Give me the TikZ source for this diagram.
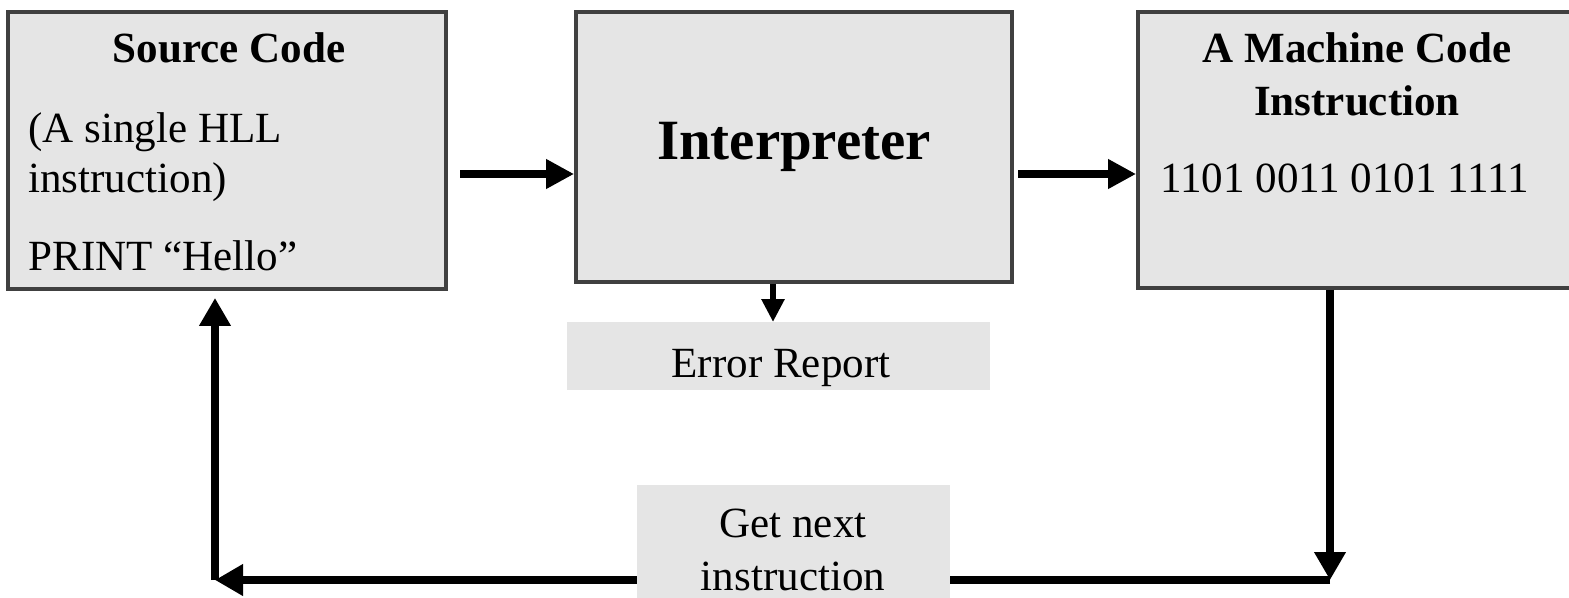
\documentclass[tikz,border=0pt]{standalone}
\usepackage{fontspec}
\setmainfont{Liberation Serif}
\usepackage{tikz}
\usetikzlibrary{arrows.meta}
\usetikzlibrary{positioning}
\definecolor{boxfill}{gray}{0.9}
\definecolor{boxline}{gray}{0.25}
\tikzset{box/.style = {draw = boxline, fill = boxfill, line width = 2.2pt, inner sep = 0}}
\tikzset{plainbox/.style = {fill = boxfill, inner sep = 0}}
\tikzset{txt/.style = {inner sep = 0, font = \fontsize{24.5}{28}\selectfont}}
\tikzset{flow/.style = {line width = 4pt, -{Triangle[length = 0.56cm, width = 0.56cm]}}}
\tikzset{flowline/.style = {line width = 4.4pt}}

\begin{document}
\begin{tikzpicture}
    \useasboundingbox (0, 0) rectangle (31.38, 11.94);
    \clip (0, 0) rectangle (31.38, 11.94);

    % the three main boxes
    \node [box, minimum width = 8.76cm, minimum height = 5.54cm] (source) at (4.54, 8.93) {};
    \node [box, minimum width = 8.72cm, minimum height = 5.40cm, font = \fontsize{32.4}{38}\selectfont\bfseries] (interp) at (15.88, 9.00) {Interpreter};
    \node [box, minimum width = 9.04cm, minimum height = 5.52cm] (machine) at (27.28, 8.94) {};

    \node [txt, font = \fontsize{24.5}{28}\selectfont\bfseries, anchor = base] (srctitle) at (4.58, 10.68) {Source Code};
    \node [txt, anchor = base west] (srcline1) at (0.56, 9.10) {(A single HLL};
    \node [txt, anchor = base west] (srcline2) at (0.56, 8.10) {instruction)};
    \node [txt, anchor = base west] (srcline3) at (0.56, 6.54) {PRINT “Hello”};

    \node [txt, font = \fontsize{24.5}{28}\selectfont\bfseries, anchor = base] (mctitle1) at (27.14, 10.68) {A Machine Code};
    \node [txt, font = \fontsize{24.5}{28}\selectfont\bfseries, anchor = base] (mctitle2) at (27.14, 9.64) {Instruction};
    \node [txt, anchor = base west] (mcbits) at (23.2, 8.10) {1101 0011 0101 1111};

    % error report and next instruction
    \node [plainbox, minimum width = 8.46cm, minimum height = 1.36cm] (error) at (15.57, 4.82) {};
    \node [txt, anchor = base] (errortext) at (15.62, 4.40) {Error Report};

    \node [plainbox, minimum width = 6.26cm, minimum height = 2.7cm] (nextbox) at (15.87, 0.89) {};
    \node [txt, anchor = base] (nextline1) at (15.86, 1.20) {Get next};
    \node [txt, anchor = base] (nextline2) at (15.86, 0.14) {instruction};

    % arrows
    \coordinate (srcout) at (9.2, 8.46);
    \coordinate (interpout) at (20.36, 8.46);
    \coordinate (errtop) at (15.46, 5.50);
    \coordinate (cornerR) at (26.6, 0.34);
    \coordinate (cornerL) at (4.3, 0.34);

    \draw [flow] (srcout) -- (interp.west |- srcout);
    \draw [flow] (interpout) -- (machine.west |- interpout);
    \draw [line width = 3.4pt, -{Triangle[length = 0.46cm, width = 0.44cm]}] (errtop |- interp.south) -- (errtop);

    \draw [flowline, -{Triangle[length = 0.56cm, width = 0.6cm]}] (cornerR |- machine.south) -- (cornerR);
    \draw [flowline] (cornerR) -- (nextbox.east |- cornerR);
    \draw [flowline, -{Triangle[length = 0.56cm, width = 0.6cm]}] (nextbox.west |- cornerR) -- (cornerL);
    \draw [flowline, -{Triangle[length = 0.56cm, width = 0.6cm]}] (cornerL) -- ([yshift = -0.14cm] cornerL |- source.south);
  \end{tikzpicture}
\end{document}
